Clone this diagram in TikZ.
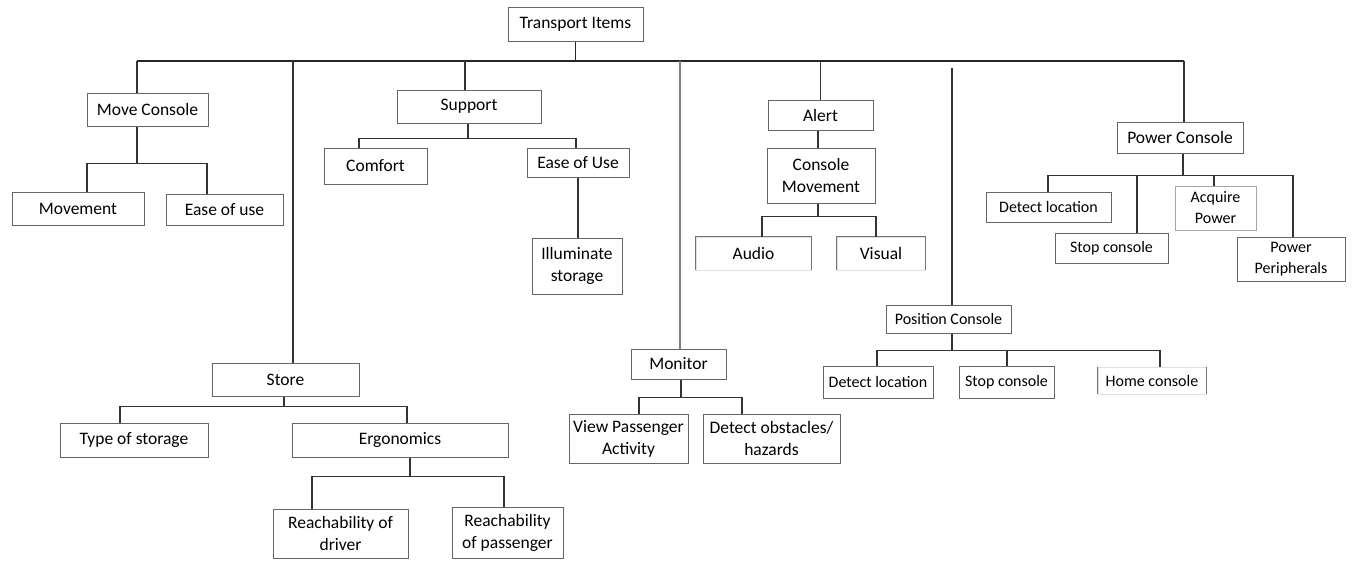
\documentclass[tikz,border=0pt]{standalone}
\usepackage{fontspec}
\setmainfont{Carlito}

\begin{document}
\begin{tikzpicture}[
  x=1pt, y=-1pt,
  every node/.style={font=\fontsize{17.5}{22}\selectfont, align=center, inner sep=0pt},
  item/.style={rectangle, draw=black!60, line width=1pt, fill=white},
  faint/.style={rectangle, draw=black!12, line width=0.8pt, fill=white},
  small/.style={font=\fontsize{16}{21}\selectfont},
  link/.style={draw=black!80, line width=1.3pt},
  trunk/.style={draw=black!85, line width=1.7pt},
  side/.style={draw=black!55, line width=1pt}
]
\useasboundingbox (0,0) rectangle (1354,563);

% root
\node[item, minimum width=135, minimum height=34] (root) at (575.5,24) {Transport Items};
\coordinate (busL) at (137,61);
\coordinate (busR) at (1184,61);
\coordinate (posTop) at (952,68);

% first level
\node[item, minimum width=121, minimum height=33] (move) at (147.5,109.5) {Move Console};
\node[item, minimum width=144, minimum height=33] (support) at (469,106.5) {Support};
\node[item, minimum width=147, minimum height=33] (store) at (285.5,379.5) {Store};
\node[item, minimum width=95, minimum height=30] (monitor) at (678.5,364) {Monitor};
\node[item, minimum width=105, minimum height=30] (alert) at (820.5,115) {Alert};
\node[item, small, minimum width=125, minimum height=28] (poscon) at (948.5,319) {Position Console};
\node[item, minimum width=126, minimum height=31] (power) at (1180,137.5) {Power Console};

% move console
\node[item, minimum width=132, minimum height=33] (movement) at (78,208.5) {Movement};
\node[item, minimum width=117, minimum height=31] (easeuse) at (224.5,209.5) {Ease of use};

% support
\node[item, minimum width=103, minimum height=36] (comfort) at (375.5,166) {Comfort};
\node[item, minimum width=102, minimum height=29] (easeUse) at (578,162.5) {Ease of Use};
\node[item, minimum width=90, minimum height=56] (illum) at (577,266) {Illuminate\\storage};

% store
\node[item, minimum width=148, minimum height=34] (typestor) at (134,440) {Type of storage};
\node[item, minimum width=216, minimum height=34] (ergo) at (400,440) {Ergonomics};
\node[item, minimum width=135, minimum height=49] (reachD) at (340.5,533.5) {Reachability of\\driver};
\node[item, minimum width=111, minimum height=51] (reachP) at (507.5,532.5) {Reachability\\of passenger};

% monitor
\node[item, minimum width=119, minimum height=49] (viewPA) at (628.5,438.5) {View Passenger\\Activity};
\node[item, minimum width=137, minimum height=49] (detObs) at (771.5,438.5) {Detect obstacles/\\hazards};

% alert
\node[item, minimum width=108, minimum height=55] (conMov) at (821,175.5) {Console\\Movement};
\node[faint, minimum width=115, minimum height=33] (audio) at (753.5,253.5) {Audio};
\node[faint, minimum width=88, minimum height=33] (visual) at (881,253.5) {Visual};

% position console
\node[item, small, minimum width=110, minimum height=32] (detLocB) at (878,382) {Detect location};
\node[item, small, minimum width=95, minimum height=32] (stopB) at (1006.5,382) {Stop console};
\node[faint, small, minimum width=108, minimum height=27] (home) at (1152,380.5) {Home console};

% power console
\node[item, small, minimum width=125, minimum height=30] (detLocA) at (1048.5,207) {Detect location};
\node[item, small, minimum width=113, minimum height=30] (stopA) at (1111.5,248) {Stop console};
\node[item, draw=black!35, small, minimum width=81, minimum height=44] (acq) at (1215.5,208) {Acquire\\Power};
\node[item, small, minimum width=108, minimum height=44] (powPer) at (1291,259) {Power\\Peripherals};

% open box edges
\draw[side] (audio.south west) |- (audio.north east) -- (audio.south east);
\draw[side] (visual.south west) |- (visual.north east) -- (visual.south east);
\draw[side] (home.north west) -- (home.south west);
\draw[side] (home.north east) -- (home.south east);

% main bus
\draw[trunk] (root.south) -- (root.south |- busL);
\draw[trunk] (busL) -- (busR);
\draw[link] (busL) -- (busL |- move.north);
\draw[link] ([xshift=-4]support.north) -- ([xshift=-4]support.north |- busL);
\draw[link] ([xshift=7.5]store.north) -- ([xshift=7.5]store.north |- busL);
\draw[draw=black!50, line width=2.8pt] ([xshift=1.5]monitor.north) -- ([xshift=1.5]monitor.north |- busL);
\draw[link] (alert.north) -- (alert.north |- busL);
\draw[link] (posTop) -- (posTop |- poscon.north);
\draw[link] (busR) -- (busR |- power.north);

% move console
\draw[link] ([xshift=-10.5]move.south) -- ++(0,37) -| ([xshift=9]movement.north);
\draw[link] ([xshift=-10.5]move.south) -- ++(0,37) -| ([xshift=-17.5]easeuse.north);

% support
\draw[link] ([xshift=-1]support.south) -- ++(0,15) -| ([xshift=-16.5]comfort.north);
\draw[link] ([xshift=-1]support.south) -- ++(0,15) -| ([xshift=-2]easeUse.north);
\draw[link] (easeUse.south) -- (easeUse.south |- illum.north);

% store
\draw[link] ([xshift=-1.5]store.south) -- ++(0,10) -| ([xshift=-14]typestor.north);
\draw[link] ([xshift=-1.5]store.south) -- ++(0,10) -| ([xshift=7]ergo.north);
\draw[link] ([xshift=10]ergo.south) -- ++(0,19) -| ([xshift=-28.5]reachD.north);
\draw[link] ([xshift=10]ergo.south) -- ++(0,19) -| ([xshift=-3.5]reachP.north);

% monitor
\draw[link] ([xshift=2.5]monitor.south) -- ++(0,18) -| ([xshift=10.5]viewPA.north);
\draw[link] ([xshift=2.5]monitor.south) -- ++(0,18) -| ([xshift=-29.5]detObs.north);

% alert
\draw[link] ([xshift=-2.5]alert.south) -- ([xshift=-2.5]alert.south |- conMov.north);
\draw[link] ([xshift=-3]conMov.south) -- ++(0,13) -| ([xshift=8.5]audio.north);
\draw[link] ([xshift=-3]conMov.south) -- ++(0,13) -| ([xshift=-5]visual.north);

% position console
\draw[link] ([xshift=3.5]poscon.south) -- ++(0,17) -| ([xshift=-1]detLocB.north);
\draw[link] ([xshift=3.5]poscon.south) -- ++(0,17) -| ([xshift=0.5]stopB.north);
\draw[link] ([xshift=3.5]poscon.south) -- ++(0,17) -| ([xshift=8]home.north);

% power console
\draw[link] ([xshift=3]power.south) -- ++(0,22) -| ([xshift=-0.5]detLocA.north);
\draw[link] ([xshift=3]power.south) -- ++(0,22) -| ([xshift=25.5]stopA.north);
\draw[link] ([xshift=3]power.south) -- ++(0,22) -| ([xshift=-1.5]acq.north);
\draw[link] ([xshift=3]power.south) -- ++(0,22) -| ([xshift=2]powPer.north);
\end{tikzpicture}
\end{document}
